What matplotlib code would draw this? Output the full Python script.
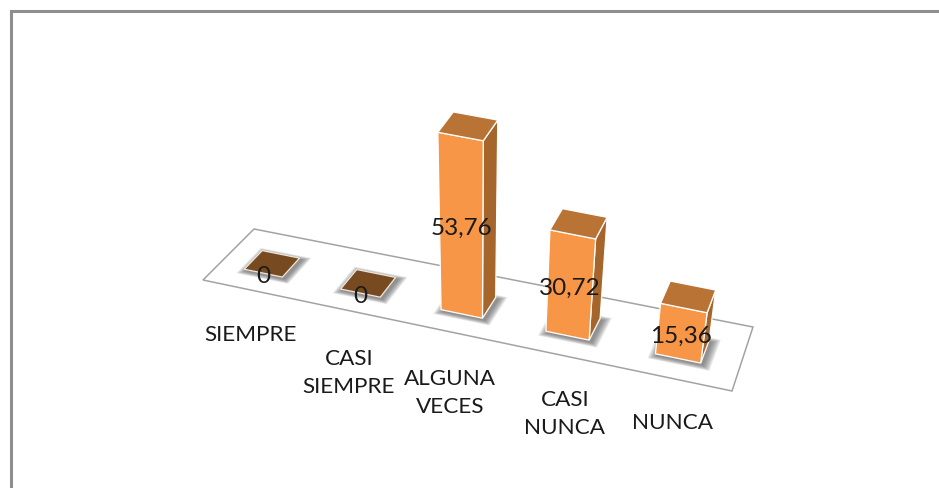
"""3D style column chart drawn by projecting a floor plane onto a flat axes."""
import numpy as np
import matplotlib
matplotlib.use('Agg')
import matplotlib.pyplot as plt
from matplotlib.patches import Polygon

plt.rcParams['font.family'] = ['Lato', 'DejaVu Sans']

# Data
categories = ['SIEMPRE', 'CASI\nSIEMPRE', 'ALGUNA\nVECES', 'CASI\nNUNCA', 'NUNCA']
values = [0, 0, 53.76, 30.72, 15.36]
value_labels = ['0', '0', '53,76', '30,72', '15,36']

# Layout, in picture pixels
WIDTH, HEIGHT = 939, 488
FLOOR = [(203, 280), (732, 391), (753, 327), (254, 229)]  # front l, front r, back r, back l
LABEL_POS = [(251, 335), (349, 373), (450, 393), (565, 414), (672, 423)]
VANISH = (474, 2140)
PX_PER_UNIT = 3.3
HALF_U = 0.04
U_SHIFT = -0.006
V_RANGE = (0.30, 0.66)

FRONT = '#F79646'
SIDE = '#A5652B'
TOP = '#B97435'
ZERO_TOP = '#774A20'
FONT = 16.2
VALUE_FONT = 17.5


def homography(dst):
    src = [(0, 0), (1, 0), (1, 1), (0, 1)]
    a, b = [], []
    for (u, v), (x, y) in zip(src, dst):
        a.append([u, v, 1, 0, 0, 0, -u * x, -v * x])
        a.append([0, 0, 0, u, v, 1, -u * y, -v * y])
        b += [x, y]
    return np.append(np.linalg.solve(np.array(a, float), np.array(b, float)), 1).reshape(3, 3)


H = homography(FLOOR)


def project(u, v, value=0.0):
    # floor point first, then lift it along the lean of the verticals
    p = H @ np.array([u, v, 1.0])
    x, y = p[0] / p[2], p[1] / p[2]
    dx, dy = x - VANISH[0], y - VANISH[1]
    k = value * PX_PER_UNIT / np.hypot(dx, dy)
    return x + dx * k, y + dy * k


def soft_shadow(ax, pts, offset=(2, 2), grow=10, steps=8):
    pts = np.array(pts)
    centre = pts.mean(axis=0)
    spread = np.abs(pts - centre).max()
    for s in range(steps, 0, -1):
        scale = 1 + grow / spread * s / steps
        ax.add_patch(Polygon(centre + (pts - centre) * scale + np.array(offset), closed=True,
                             fc='#505050', ec='none', alpha=0.11, zorder=2))


fig = plt.figure(figsize=(WIDTH / 100, HEIGHT / 100), dpi=100)
ax = fig.add_axes([0, 0, 1, 1])
ax.set_xlim(0, WIDTH)
ax.set_ylim(HEIGHT, 0)
ax.axis('off')

# outer chart frame, open at the right and bottom
ax.plot([10.5, 10.5, WIDTH], [HEIGHT, 11, 11], color='#8E8E8E', lw=2.2, zorder=1,
        solid_joinstyle='miter')

ax.add_patch(Polygon(FLOOR, closed=True, fc='white', ec='#A3A3A3', lw=1.1, zorder=1.5))

for i, val in enumerate(values):
    u0 = (i + 0.5) / len(values) + U_SHIFT - HALF_U
    u1 = (i + 0.5) / len(values) + U_SHIFT + HALF_U
    v0, v1 = V_RANGE
    footprint = [project(u0, v0), project(u1, v0), project(u1, v1), project(u0, v1)]
    soft_shadow(ax, footprint)

    z = 3 + i
    top = [project(u0, v0, val), project(u1, v0, val), project(u1, v1, val), project(u0, v1, val)]
    if val > 0:
        front = [footprint[0], footprint[1], top[1], top[0]]
        side = [footprint[1], footprint[2], top[2], top[1]]
        ax.add_patch(Polygon(side, closed=True, fc=SIDE, ec='white', lw=0.9, zorder=z))
        ax.add_patch(Polygon(front, closed=True, fc=FRONT, ec='white', lw=0.9, zorder=z))
        ax.add_patch(Polygon(top, closed=True, fc=TOP, ec='white', lw=0.9, zorder=z))
    else:
        ax.add_patch(Polygon(top, closed=True, fc=ZERO_TOP, ec='#EFE6DC', lw=0.9, zorder=z))

    # data label sits on the middle of the front face
    fx = (footprint[0][0] + footprint[1][0] + top[0][0] + top[1][0]) / 4
    fy = (footprint[0][1] + footprint[1][1] + top[0][1] + top[1][1]) / 4
    ax.text(fx, fy + 3, value_labels[i], ha='center', va='center', fontsize=VALUE_FONT,
            color='#1a1a1a', zorder=20)

for (x, y), name in zip(LABEL_POS, categories):
    ax.text(x, y, name, ha='center', va='center', fontsize=FONT, color='#1a1a1a',
            linespacing=1.55, zorder=20)

fig.savefig('out.png', dpi=100)
